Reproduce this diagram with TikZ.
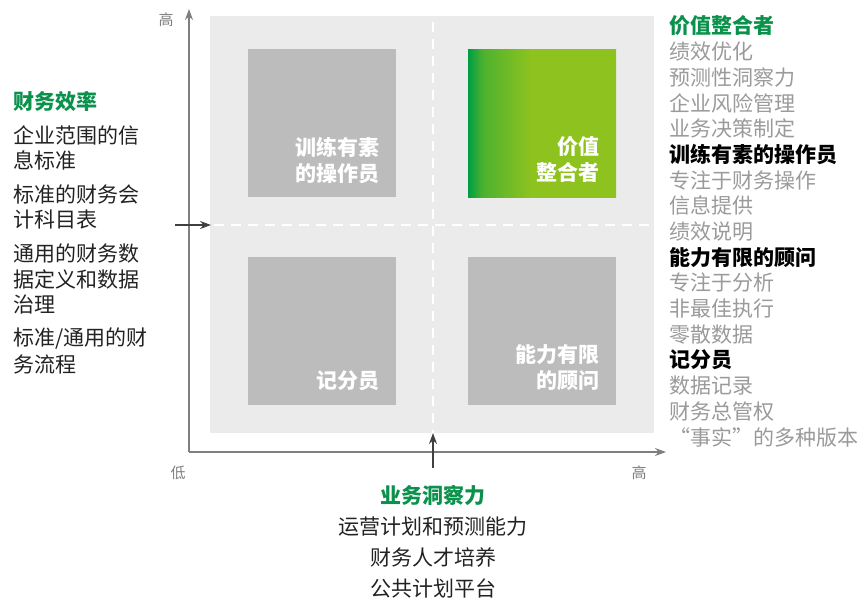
\documentclass[tikz,border=0pt]{standalone}
\usepackage{fontspec}
\setmainfont{Noto Sans CJK SC}
\usetikzlibrary{arrows.meta,calc}
\definecolor{bglight}{HTML}{EBEBEB}
\definecolor{boxgray}{HTML}{BBBCBB}
\definecolor{gdark}{RGB}{0,158,68}
\definecolor{glight}{RGB}{141,194,31}
\definecolor{hgreen}{RGB}{10,145,75}
\definecolor{subgray}{HTML}{9A9A9A}
\definecolor{axisgray}{HTML}{7F7F7F}
\definecolor{txt}{HTML}{222222}
\pgfdeclarehorizontalshading{greenfade}{100bp}{color(0bp)=(gdark); color(25bp)=(gdark); color(30bp)=(gdark!45!glight); color(46bp)=(glight); color(100bp)=(glight)}
\tikzset{
  quad/.style={fill=boxgray,draw=none,minimum width=148pt,minimum height=148pt,inner sep=0pt,anchor=north west},
  boxtxt/.style={text=white,font=\fontsize{21}{23}\selectfont\bfseries,anchor=east,inner sep=0pt},
  hg/.style={text=hgreen,font=\fontsize{21}{23}\selectfont\bfseries,inner sep=0pt},
  hb/.style={text=black,font=\fontsize{21}{23}\selectfont\bfseries,inner sep=0pt},
  it/.style={text=subgray,font=\fontsize{21}{23}\selectfont,inner sep=0pt},
  lt/.style={text=txt,font=\fontsize{21}{23}\selectfont,inner sep=0pt},
  axlbl/.style={text=axisgray,font=\fontsize{15}{17}\selectfont,inner sep=0pt},
  axis/.style={draw=axisgray,line width=1.6pt,-{Stealth[length=11pt,width=8pt]}},
  pointer/.style={draw=black!75,line width=1.5pt,-{Stealth[length=11pt,width=8pt]}},
  divider/.style={draw=white,line width=1.6pt,dash pattern=on 10pt off 7pt},
}
\begin{document}
\begin{tikzpicture}[x=1pt,y=-1pt]
\useasboundingbox (0,0) rectangle (862,598);
% background panel
\node[fill=bglight,draw=none,minimum width=444pt,minimum height=417pt,inner sep=0pt,anchor=north west] (BG) at (210,16) {};
% dashed dividers
\coordinate (VT) at (433,22);
\coordinate (VB) at (433,433);
\coordinate (HL) at (214,225);
\coordinate (HR) at (654,225);
\draw[divider] (VT) -- (VB);
\draw[divider] (HL) -- (HR);
% quadrant boxes
\node[quad] (TL) at (248,49) {};
\node[quad,fill=none,shading=greenfade] (TR) at (468,49) {};
\node[quad] (BL) at (248,257) {};
\node[quad] (BR) at (468,257) {};
% box labels
\node[boxtxt] (TL1) at ([shift={(-17,-50)}]TL.south east) {训练有素};
\node[boxtxt] (TL2) at ([shift={(-17,-24)}]TL.south east) {的操作员};
\node[boxtxt] (TR1) at ([shift={(-17,-51)}]TR.south east) {价值};
\node[boxtxt] (TR2) at ([shift={(-17,-25)}]TR.south east) {整合者};
\node[boxtxt] (BL1) at ([shift={(-17,-25)}]BL.south east) {记分员};
\node[boxtxt] (BR1) at ([shift={(-17,-51)}]BR.south east) {能力有限};
\node[boxtxt] (BR2) at ([shift={(-17,-25)}]BR.south east) {的顾问};
% axes
\coordinate (O) at (189,452);
\coordinate (YT) at (189,9);
\coordinate (XR) at (666,452);
\draw[axis] (O) -- (YT);
\draw[axis] (O) -- (XR);
\node[axlbl] (yhigh) at (166,20) {高};
\node[axlbl] (xlow) at (178,473) {低};
\node[axlbl] (xhigh) at (639,473) {高};
% pointers
\coordinate (LA) at (175,225);
\coordinate (LB) at (211,225);
\draw[pointer] (LA) -- (LB);
\coordinate (BA) at (433,468);
\coordinate (BB) at (433,433);
\draw[pointer] (BA) -- (BB);
% left column
\node[hg,anchor=west] (L0) at (13,102) {财务效率};
\foreach \t/\y [count=\i] in {企业范围的信/135,息标准/160,标准的财务会/194.5,计科目表/220,通用的财务数/253.5,据定义和数据/279.5,治理/305,{标准/通用的财}/338.5,务流程/364}
  \node[lt,anchor=west] (L\i) at (13,\y) {\t};
% right column
\foreach \t/\s [count=\i] in {价值整合者/hg,绩效优化/it,预测性洞察力/it,企业风险管理/it,业务决策制定/it,训练有素的操作员/hb,专注于财务操作/it,信息提供/it,绩效说明/it,能力有限的顾问/hb,专注于分析/it,非最佳执行/it,零散数据/it,记分员/hb,数据记录/it,财务总管权/it,“事实”的多种版本/it}
  \node[\s,anchor=west] (R\i) at (669,{26+(\i-1)*25.7}) {\t};
% bottom column
\node[hg] (B0) at (433,495) {业务洞察力};
\node[lt] (B1) at (433,526.5) {运营计划和预测能力};
\node[lt] (B2) at (433,557.5) {财务人才培养};
\node[lt] (B3) at (433,588) {公共计划平台};
\end{tikzpicture}
\end{document}
